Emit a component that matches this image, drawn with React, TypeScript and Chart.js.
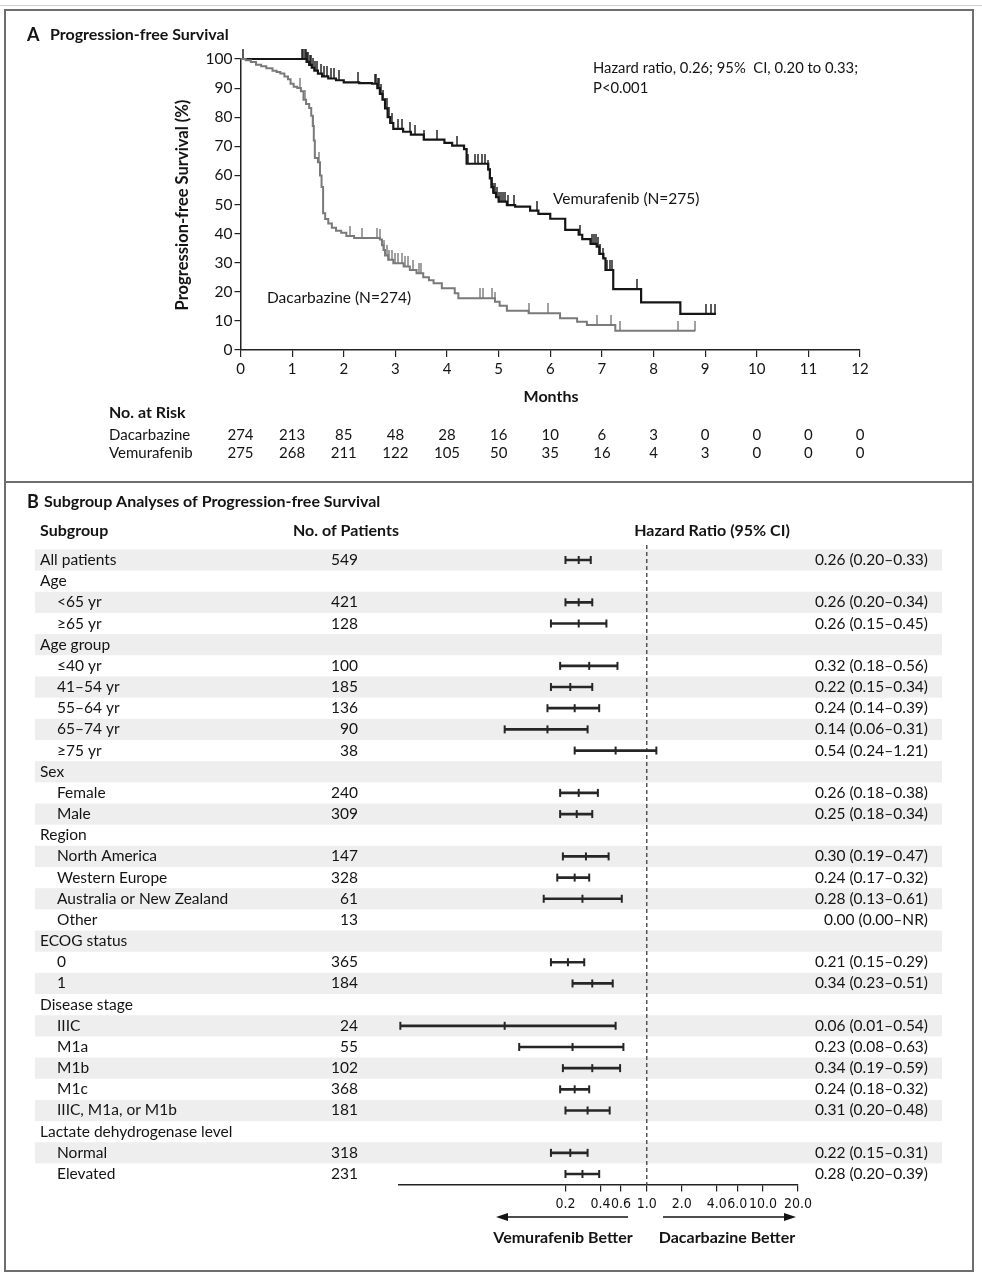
import React, { useEffect, useRef } from "react";
import { Chart, registerables } from "chart.js";

Chart.register(...registerables);

const FONT = "Lato, 'Open Sans', 'DejaVu Sans', sans-serif";
const INK = "#141414";

// ---------- Panel A: Kaplan-Meier data (months, % progression-free) ----------
const vemTimes = [0, 1.28, 1.33, 1.38, 1.43, 1.5, 1.58, 1.7, 1.85, 2.0, 2.3, 2.55, 2.65, 2.7, 2.75, 2.8, 2.85, 2.9, 2.96, 3.15, 3.3, 3.55, 3.95, 4.1, 4.33, 4.38, 4.8, 4.83, 4.86, 4.9, 4.95, 5.0, 5.16, 5.32, 5.61, 5.77, 6.0, 6.29, 6.55, 6.62, 6.78, 6.9, 6.95, 7.03, 7.07, 7.22, 7.76, 8.52, 9.21];
const vemSurv = [100, 99, 98, 97, 96, 95, 94, 93.3, 92.7, 92, 91.7, 91.5, 90, 88, 86, 83, 80, 78, 76, 75, 74, 72.3, 71.2, 70.2, 69, 64, 62, 59, 56, 54, 52.5, 51, 49.8, 49.3, 47.9, 46.8, 45.1, 41.3, 39.6, 38.1, 36.5, 35.5, 33, 31.5, 27.5, 20.9, 16.4, 12.4, 12.4];
const vemCensor = [0.05, 1.2, 1.22, 1.24, 1.26, 1.29, 1.31, 1.34, 1.37, 1.4, 1.45, 1.48, 1.55, 1.62, 1.67, 1.75, 1.82, 1.9, 2.28, 2.6, 2.63, 2.66, 2.69, 2.72, 2.76, 2.8, 2.84, 2.88, 2.93, 3.05, 3.12, 3.28, 3.38, 3.55, 3.8, 4.19, 4.4, 4.54, 4.6, 4.67, 4.74, 4.8, 4.84, 4.87, 4.9, 4.93, 4.96, 5.0, 5.04, 5.08, 5.12, 5.18, 5.3, 5.75, 6.58, 6.8, 6.84, 6.88, 6.92, 6.97, 7.03, 7.1, 7.15, 7.2, 7.68, 9.02, 9.11, 9.2];

const dacTimes = [0, 0.1, 0.2, 0.3, 0.4, 0.5, 0.62, 0.7, 0.77, 0.85, 0.92, 0.97, 1.03, 1.1, 1.17, 1.22, 1.27, 1.33, 1.37, 1.4, 1.42, 1.44, 1.5, 1.54, 1.57, 1.6, 1.64, 1.7, 1.77, 1.85, 1.95, 2.05, 2.2, 2.7, 2.74, 2.77, 2.8, 2.86, 2.96, 3.16, 3.28, 3.41, 3.54, 3.65, 3.74, 3.9, 4.15, 4.22, 4.93, 5.02, 5.16, 5.58, 6.19, 6.52, 6.71, 7.26, 8.81];
const dacSurv = [100, 99.6, 99, 98, 97.5, 96.8, 96, 95.5, 95, 94, 93, 91.5, 90.5, 90, 88.9, 86, 84.5, 83.2, 80.5, 77, 72, 66, 64.5, 60, 56, 47, 45, 43.5, 42, 41, 40.3, 39.2, 38.5, 38, 36, 34.4, 32.5, 31, 29.8, 28.7, 27.5, 26.4, 25, 24, 22.9, 21.2, 19.5, 17.8, 16.6, 15.2, 13.5, 12.6, 10.9, 9.7, 8.6, 6.6, 6.6];
const dacCensor = [1.15, 1.25, 1.41, 1.52, 2.12, 2.35, 2.64, 2.7, 2.77, 2.83, 2.88, 2.93, 2.99, 3.05, 3.12, 3.18, 3.25, 3.34, 3.45, 3.5, 4.63, 4.69, 4.87, 4.93, 5.58, 5.95, 6.9, 7.17, 7.35, 8.48, 8.81];

const riskMonths = [0, 1, 2, 3, 4, 5, 6, 7, 8, 9, 10, 11, 12];
const riskDac = [274, 213, 85, 48, 28, 16, 10, 6, 3, 0, 0, 0, 0];
const riskVem = [275, 268, 211, 122, 105, 50, 35, 16, 4, 3, 0, 0, 0];

// ---------- Panel B: subgroup forest plot ----------
const subgroups = ["All patients", "Age", "<65 yr", "≥65 yr", "Age group", "≤40 yr", "41–54 yr", "55–64 yr", "65–74 yr", "≥75 yr", "Sex", "Female", "Male", "Region", "North America", "Western Europe", "Australia or New Zealand", "Other", "ECOG status", "0", "1", "Disease stage", "IIIC", "M1a", "M1b", "M1c", "IIIC, M1a, or M1b", "Lactate dehydrogenase level", "Normal", "Elevated"];
const indented = [0, 0, 1, 1, 0, 1, 1, 1, 1, 1, 0, 1, 1, 0, 1, 1, 1, 1, 0, 1, 1, 0, 1, 1, 1, 1, 1, 0, 1, 1];
const patients = [549, null, 421, 128, null, 100, 185, 136, 90, 38, null, 240, 309, null, 147, 328, 61, 13, null, 365, 184, null, 24, 55, 102, 368, 181, null, 318, 231];
const hazard = [0.26, null, 0.26, 0.26, null, 0.32, 0.22, 0.24, 0.14, 0.54, null, 0.26, 0.25, null, 0.30, 0.24, 0.28, null, null, 0.21, 0.34, null, 0.06, 0.23, 0.34, 0.24, 0.31, null, 0.22, 0.28];
const ciLow = [0.20, null, 0.20, 0.15, null, 0.18, 0.15, 0.14, 0.06, 0.24, null, 0.18, 0.18, null, 0.19, 0.17, 0.13, null, null, 0.15, 0.23, null, 0.0076, 0.08, 0.19, 0.18, 0.20, null, 0.15, 0.20];
const ciHigh = [0.33, null, 0.34, 0.45, null, 0.56, 0.34, 0.39, 0.31, 1.21, null, 0.38, 0.34, null, 0.47, 0.32, 0.61, null, null, 0.29, 0.51, null, 0.54, 0.63, 0.59, 0.32, 0.48, null, 0.31, 0.39];
const hrText = ["0.26 (0.20–0.33)", "", "0.26 (0.20–0.34)", "0.26 (0.15–0.45)", "", "0.32 (0.18–0.56)", "0.22 (0.15–0.34)", "0.24 (0.14–0.39)", "0.14 (0.06–0.31)", "0.54 (0.24–1.21)", "", "0.26 (0.18–0.38)", "0.25 (0.18–0.34)", "", "0.30 (0.19–0.47)", "0.24 (0.17–0.32)", "0.28 (0.13–0.61)", "0.00 (0.00–NR)", "", "0.21 (0.15–0.29)", "0.34 (0.23–0.51)", "", "0.06 (0.01–0.54)", "0.23 (0.08–0.63)", "0.34 (0.19–0.59)", "0.24 (0.18–0.32)", "0.31 (0.20–0.48)", "", "0.22 (0.15–0.31)", "0.28 (0.20–0.39)"];
const forestTicks = [0.2, 0.4, 0.6, 1, 2, 4, 6, 10, 20];
const forestTickLabels = ["0.2", "0.4", "0.6", "1.0", "2.0", "4.0", "6.0", "10.0", "20.0"];

const A_TOP = 0;
const A_H = 482;
const B_TOP = 482;
const B_H = 792;

function survAt(times: number[], surv: number[], t: number) {
  let v = surv[0];
  for (let i = 0; i < times.length; i++) {
    if (times[i] <= t) v = surv[i];
  }
  return v;
}

function makeTick(color: string, h: number) {
  const c = document.createElement("canvas");
  c.width = 2;
  c.height = h * 2;
  const g = c.getContext("2d")!;
  g.fillStyle = color;
  g.fillRect(0.3, 0, 1.4, h);
  return c;
}

const panelAText = {
  id: "panelAText",
  afterDraw(chart: any) {
    const ctx = chart.ctx;
    const x = chart.scales.x;
    ctx.save();
    ctx.fillStyle = INK;
    ctx.textBaseline = "middle";
    ctx.textAlign = "left";
    ctx.font = `bold 18px ${FONT}`;
    ctx.fillText("A", 27, 35);
    ctx.font = `bold 16px ${FONT}`;
    ctx.fillText("Progression-free Survival", 50, 35);
    ctx.save();
    ctx.translate(183, 205);
    ctx.rotate(-Math.PI / 2);
    ctx.textAlign = "center";
    ctx.font = `bold 16.5px ${FONT}`;
    ctx.fillText("Progression-free Survival (%)", 0, 0);
    ctx.restore();
    ctx.font = `bold 16px ${FONT}`;
    ctx.textAlign = "center";
    ctx.fillText("Months", 551, 397);
    ctx.textAlign = "left";
    ctx.fillText("No. at Risk", 109, 413);
    ctx.font = `15px ${FONT}`;
    ctx.fillText("Dacarbazine", 109, 435);
    ctx.fillText("Vemurafenib", 109, 453);
    ctx.textAlign = "center";
    riskMonths.forEach((m, i) => {
      const px = x.getPixelForValue(m);
      ctx.fillText(String(riskDac[i]), px, 435);
      ctx.fillText(String(riskVem[i]), px, 453);
    });
    ctx.textAlign = "left";
    ctx.font = `14.8px ${FONT}`;
    ctx.fillText("Hazard ratio, 0.26; 95%  CI, 0.20 to 0.33;", 593, 68);
    ctx.fillText("P<0.001", 593, 88);
    ctx.font = `15.5px ${FONT}`;
    ctx.fillText("Vemurafenib (N=275)", 553, 199);
    ctx.fillText("Dacarbazine (N=274)", 267, 298);
    ctx.restore();
  },
};

const panelBDecor = {
  id: "panelBDecor",
  beforeDatasetsDraw(chart: any) {
    const ctx = chart.ctx;
    const y = chart.scales.y;
    const x = chart.scales.x;
    const band = (chart.chartArea.bottom - chart.chartArea.top) / subgroups.length;
    ctx.save();
    ctx.fillStyle = "#eeeeee";
    subgroups.forEach((_s, i) => {
      if (i % 2 === 0) {
        const cy = y.getPixelForValue(i);
        ctx.fillRect(35, cy - band / 2, 907, band);
      }
    });
    const px = x.getPixelForValue(1);
    ctx.strokeStyle = "#555";
    ctx.lineWidth = 1.5;
    ctx.setLineDash([4, 3]);
    ctx.beginPath();
    ctx.moveTo(px, 63);
    ctx.lineTo(px, chart.chartArea.bottom);
    ctx.stroke();
    ctx.restore();
  },
  afterDraw(chart: any) {
    const ctx = chart.ctx;
    const y = chart.scales.y;
    ctx.save();
    ctx.fillStyle = INK;
    ctx.textBaseline = "middle";
    ctx.textAlign = "left";
    ctx.font = `bold 18px ${FONT}`;
    ctx.fillText("B", 27, 20);
    ctx.font = `bold 16px ${FONT}`;
    ctx.fillText("Subgroup Analyses of Progression-free Survival", 44, 20);
    ctx.fillText("Subgroup", 40, 49);
    ctx.textAlign = "center";
    ctx.fillText("No. of Patients", 346, 49);
    ctx.fillText("Hazard Ratio (95% CI)", 712, 49);
    ctx.font = `15.5px ${FONT}`;
    subgroups.forEach((s, i) => {
      const cy = y.getPixelForValue(i);
      ctx.textAlign = "left";
      ctx.fillText(s, indented[i] ? 57 : 40, cy);
      ctx.textAlign = "right";
      if (patients[i] != null) ctx.fillText(String(patients[i]), 358, cy);
      if (hrText[i]) ctx.fillText(hrText[i], 928, cy);
    });
    // direction arrows
    ctx.strokeStyle = INK;
    ctx.lineWidth = 1.5;
    const ay = 735;
    ctx.beginPath();
    ctx.moveTo(505, ay);
    ctx.lineTo(628, ay);
    ctx.moveTo(663, ay);
    ctx.lineTo(787, ay);
    ctx.stroke();
    ctx.beginPath();
    ctx.moveTo(496, ay);
    ctx.lineTo(508, ay - 4);
    ctx.lineTo(508, ay + 4);
    ctx.closePath();
    ctx.moveTo(796, ay);
    ctx.lineTo(784, ay - 4);
    ctx.lineTo(784, ay + 4);
    ctx.closePath();
    ctx.fill();
    ctx.font = `bold 16px ${FONT}`;
    ctx.textAlign = "center";
    ctx.fillText("Vemurafenib Better", 563, 756);
    ctx.fillText("Dacarbazine Better", 727, 756);
    ctx.restore();
  },
};

export default function App() {
  const refA = useRef<HTMLCanvasElement>(null);
  const refB = useRef<HTMLCanvasElement>(null);

  useEffect(() => {
    const vemTick = makeTick("#161616", 10);
    const dacTick = makeTick("#7a7a7a", 10);

    const axisCommon = {
      grid: { drawOnChartArea: false, drawTicks: true, tickLength: 6, color: "#222", lineWidth: 1.2 },
      border: { color: "#222", width: 1.5 },
    };

    const chartA = new Chart(refA.current!, {
      type: "line",
      data: {
        datasets: [
          {
            label: "Dacarbazine",
            data: dacTimes.map((t, i) => ({ x: t, y: dacSurv[i] })),
            stepped: true,
            borderColor: "#7a7a7a",
            borderWidth: 2,
            pointRadius: 0,
            clip: false,
          },
          {
            label: "Vemurafenib",
            data: vemTimes.map((t, i) => ({ x: t, y: vemSurv[i] })),
            stepped: true,
            borderColor: "#161616",
            borderWidth: 2.2,
            pointRadius: 0,
            clip: false,
          },
          {
            label: "Dacarbazine censored",
            data: dacCensor.map((t) => ({ x: t, y: survAt(dacTimes, dacSurv, t) })),
            showLine: false,
            pointStyle: dacTick as any,
            pointRadius: 5,
            clip: false,
          },
          {
            label: "Vemurafenib censored",
            data: vemCensor.map((t) => ({ x: t, y: survAt(vemTimes, vemSurv, t) })),
            showLine: false,
            pointStyle: vemTick as any,
            pointRadius: 5,
            clip: false,
          },
        ],
      },
      options: {
        responsive: false,
        animation: false,
        events: [],
        layout: { padding: { top: 59, right: 122, left: 0, bottom: 0 } },
        plugins: { legend: { display: false }, tooltip: { enabled: false } },
        scales: {
          x: {
            type: "linear",
            min: 0,
            max: 12,
            afterFit: (s: any) => {
              s.height = A_H - 350;
            },
            ticks: { stepSize: 1, autoSkip: false, maxRotation: 0, padding: 3, color: INK, font: { family: FONT, size: 15 } },
            ...axisCommon,
            grid: { ...axisCommon.grid, tickLength: 7 },
          },
          y: {
            type: "linear",
            min: 0,
            max: 100,
            afterFit: (s: any) => {
              s.width = 240.5;
            },
            ticks: { stepSize: 10, padding: 2, color: INK, font: { family: FONT, size: 15.5 } },
            ...axisCommon,
          },
        },
      },
      plugins: [panelAText],
    });

    const forestPoints: { x: number; y: string }[] = [];
    subgroups.forEach((s, i) => {
      if (hazard[i] != null && ciLow[i] != null && ciHigh[i] != null) {
        forestPoints.push({ x: ciLow[i] as number, y: s });
        forestPoints.push({ x: hazard[i] as number, y: s });
        forestPoints.push({ x: ciHigh[i] as number, y: s });
      }
    });

    const chartB = new Chart(refB.current!, {
      type: "bar",
      data: {
        labels: subgroups,
        datasets: [
          {
            type: "bar",
            label: "95% CI",
            data: subgroups.map((_s, i) => (ciLow[i] != null && ciHigh[i] != null ? [ciLow[i], ciHigh[i]] : null)) as any,
            backgroundColor: "#262626",
            borderWidth: 0,
            barThickness: 2,
            grouped: false,
          },
          {
            type: "scatter",
            label: "Hazard ratio",
            data: forestPoints as any,
            pointStyle: "line",
            rotation: 90,
            pointRadius: 4,
            borderColor: "#262626",
            borderWidth: 2,
            clip: false,
          } as any,
        ],
      },
      options: {
        indexAxis: "y",
        responsive: false,
        animation: false,
        events: [],
        layout: { padding: { left: 399, right: 982 - 798, top: 67.4, bottom: 0 } },
        plugins: { legend: { display: false }, tooltip: { enabled: false } },
        scales: {
          x: {
            type: "logarithmic",
            min: 0.0074,
            max: 20,
            afterBuildTicks: (s: any) => {
              s.ticks = forestTicks.map((v) => ({ value: v }));
            },
            afterFit: (s: any) => {
              s.height = B_H - 702.6;
            },
            ticks: {
              autoSkip: false,
              maxRotation: 0,
              minRotation: 0,
              padding: 4,
              color: INK,
              font: { family: "'DejaVu Sans Condensed', Lato, sans-serif", size: 14 },
              callback: (_v: any, i: number) => forestTickLabels[i],
            },
            ...axisCommon,
            grid: { ...axisCommon.grid, tickLength: 7 },
          },
          y: { type: "category", display: false, offset: true, grid: { display: false } },
        },
      },
      plugins: [panelBDecor],
    });

    return () => {
      chartA.destroy();
      chartB.destroy();
    };
  }, []);

  return (
    <div style={{ position: "absolute", left: 0, top: 0, width: 982, height: 1274, background: "#fff", overflow: "hidden" }}>
      <div style={{ position: "absolute", left: 0, top: 5, width: 982, height: 1, background: "#cfcfcf" }} />
      <canvas ref={refA} width={982} height={A_H} style={{ position: "absolute", left: 0, top: A_TOP, width: 982, height: A_H }} />
      <canvas ref={refB} width={982} height={B_H} style={{ position: "absolute", left: 0, top: B_TOP, width: 982, height: B_H }} />
      <div style={{ position: "absolute", left: 4, top: 9, width: 970, height: 1263, boxSizing: "border-box", border: "2px solid #6e6e6e", pointerEvents: "none" }} />
      <div style={{ position: "absolute", left: 4, top: 481, width: 970, height: 2, background: "#6e6e6e", pointerEvents: "none" }} />
    </div>
  );
}
